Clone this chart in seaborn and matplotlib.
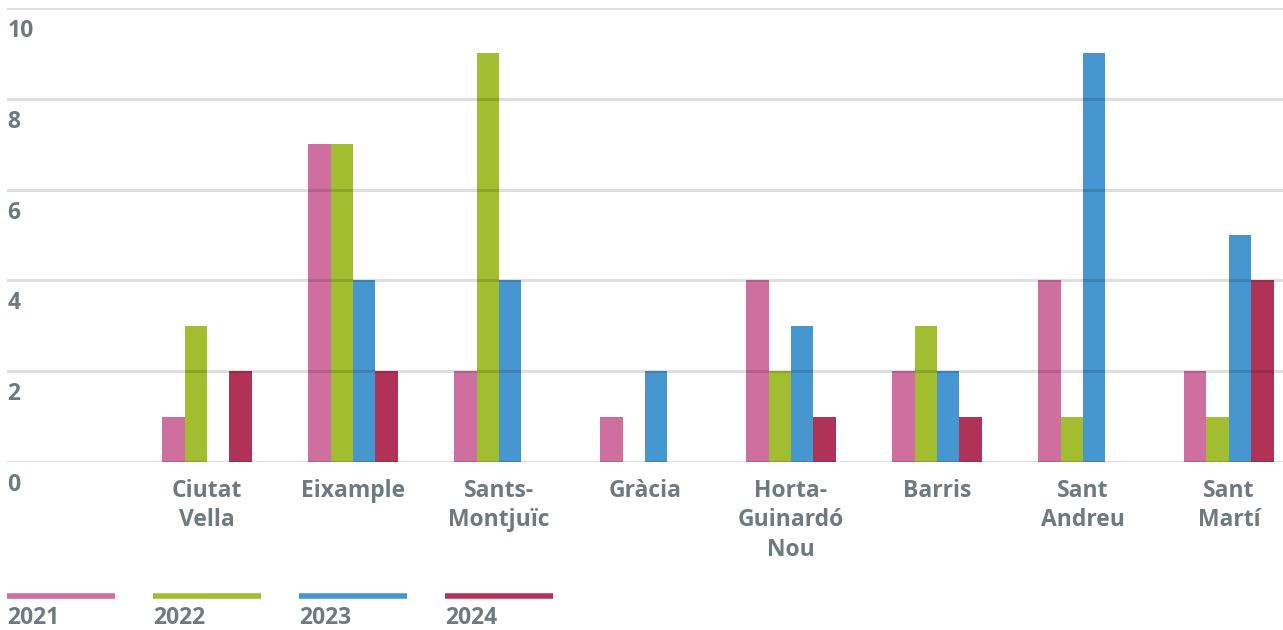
import pandas as pd
import matplotlib.pyplot as plt
import matplotlib.transforms as mtransforms
from matplotlib.lines import Line2D
import seaborn as sns

# data
districts = ["Ciutat\nVella", "Eixample", "Sants-\nMontjuïc", "Gràcia",
             "Horta-\nGuinardó\nNou", "Barris", "Sant\nAndreu", "Sant\nMartí"]
years = ["2021", "2022", "2023", "2024"]
v2021 = [1, 7, 2, 1, 4, 2, 4, 2]
v2022 = [3, 7, 9, 0, 2, 3, 1, 1]
v2023 = [0, 4, 4, 2, 3, 2, 9, 5]
v2024 = [2, 2, 0, 0, 1, 1, 0, 4]
y_ticks = [0, 2, 4, 6, 8, 10]

colors = ["#cf6f9f", "#a2bd30", "#4697d0", "#b03257"]
text_color = "#6e7a80"
fs = 16.5

rows = []
for year, vals in zip(years, [v2021, v2022, v2023, v2024]):
    for d, v in zip(districts, vals):
        rows.append({"district": d, "year": year, "value": v})
df = pd.DataFrame(rows)

sns.set_style("white")
plt.rcParams["font.family"] = ["Open Sans", "DejaVu Sans"]

W, H = 1283, 630
fig = plt.figure(figsize=(W / 100, H / 100), dpi=100)
ax = fig.add_axes([7 / W, 1 - 462 / H, 1 - 7 / W, (462 - 8) / H])

sns.barplot(data=df, x="district", y="value", hue="year", order=districts,
            hue_order=years, palette=colors, width=0.616, saturation=1,
            legend=False, ax=ax, edgecolor="none", linewidth=0)

ax.set_xlim(-1.37, 7.37)
ax.set_ylim(0, 10)
ax.set_xlabel("")
ax.set_ylabel("")
for s in ax.spines.values():
    s.set_visible(False)

# gridlines drawn over bars
for v in y_ticks:
    ax.axhline(v, color=(0, 0, 0, 0.13), lw=2.2, zorder=5)

ax.set_yticks([])
ax.tick_params(axis="x", length=0, pad=12, labelsize=fs, labelcolor=text_color)
for lab in ax.get_xticklabels():
    lab.set_fontweight("bold")
    lab.set_linespacing(1.31)

# y labels sit below their gridline at the left edge
trans = mtransforms.blended_transform_factory(ax.transAxes, ax.transData)
trans = mtransforms.offset_copy(trans, fig=fig, x=0.5, y=-11, units="dots")
for v in y_ticks:
    ax.text(0.0, v, str(v), transform=trans, ha="left", va="top",
            fontsize=fs, color=text_color, fontweight="bold")

# legend: coloured line above each year label
for i, (year, c) in enumerate(zip(years, colors)):
    x0 = 7 + 146 * i
    fig.add_artist(Line2D([x0 / W, (x0 + 108) / W], [1 - 596 / H, 1 - 596 / H],
                          color=c, lw=4, solid_capstyle="butt"))
    fig.text(x0 / W, 1 - 606 / H, year, ha="left", va="top", fontsize=fs,
             color=text_color, fontweight="bold")

fig.savefig("out.png", dpi=100)
